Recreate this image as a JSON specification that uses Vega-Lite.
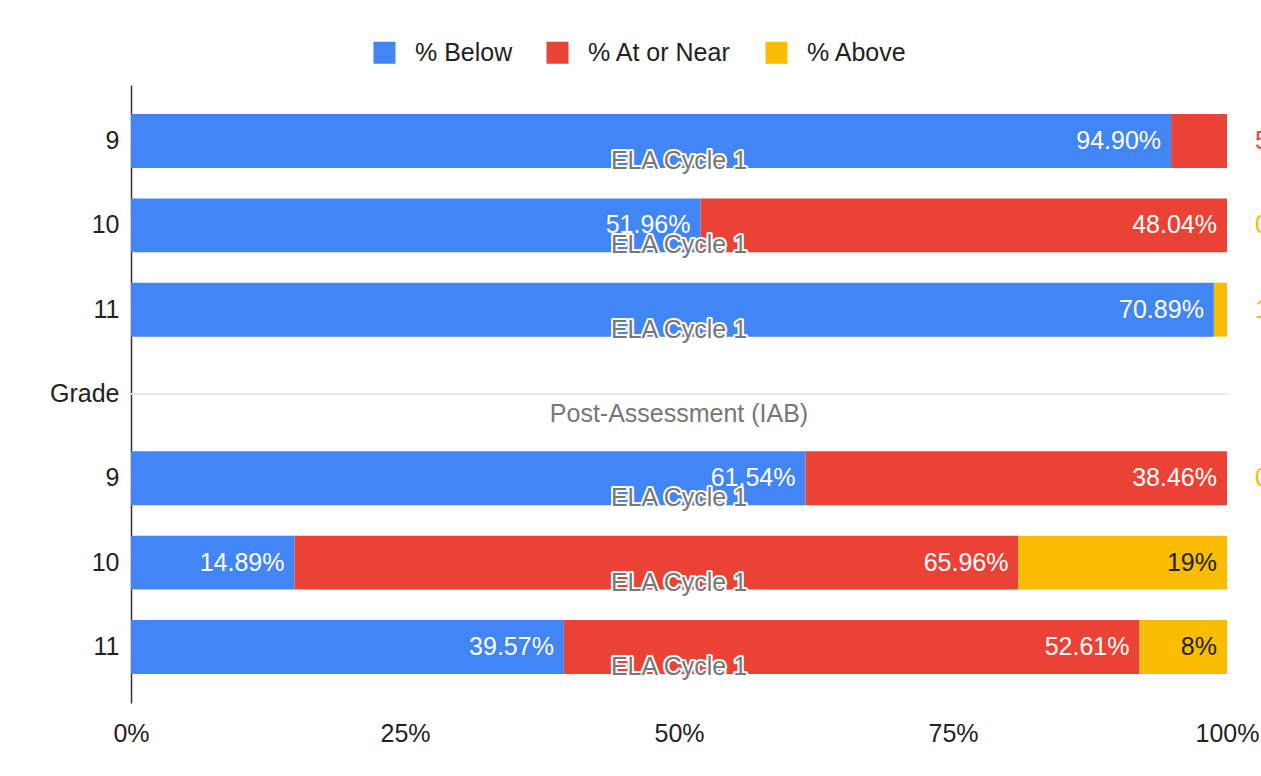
{
  "$schema": "https://vega.github.io/schema/vega-lite/v6.json",
  "autosize": {"type": "none"},
  "width": 1096,
  "height": 618,
  "padding": {"left": 131, "top": 85, "right": 34, "bottom": 73},
  "background": "white",
  "config": {
    "view": {"stroke": null},
    "font": "Liberation Sans",
    "text": {"font": "Liberation Sans"}
  },
  "datasets": {
    "bars": [
      {"row": "A 9", "series": "% Below", "value": 94.9, "label": "94.90%", "pos": "in"},
      {"row": "A 9", "series": "% At or Near", "value": 5.1, "label": "5.10%", "pos": "out"},
      {"row": "A 10", "series": "% Below", "value": 51.96, "label": "51.96%", "pos": "in"},
      {"row": "A 10", "series": "% At or Near", "value": 48.04, "label": "48.04%", "pos": "in"},
      {"row": "A 10", "series": "% Above", "value": 0, "label": "0%", "pos": "out"},
      {"row": "A 11", "series": "% Below", "value": 70.89, "label": "70.89%", "pos": "in"},
      {"row": "A 11", "series": "% Above", "value": 0.86, "label": "1%", "pos": "out"},
      {"row": "B 9", "series": "% Below", "value": 61.54, "label": "61.54%", "pos": "in"},
      {"row": "B 9", "series": "% At or Near", "value": 38.46, "label": "38.46%", "pos": "in"},
      {"row": "B 9", "series": "% Above", "value": 0, "label": "0%", "pos": "out"},
      {"row": "B 10", "series": "% Below", "value": 14.89, "label": "14.89%", "pos": "in"},
      {"row": "B 10", "series": "% At or Near", "value": 65.96, "label": "65.96%", "pos": "in"},
      {"row": "B 10", "series": "% Above", "value": 19, "label": "19%", "pos": "in"},
      {"row": "B 11", "series": "% Below", "value": 39.57, "label": "39.57%", "pos": "in"},
      {"row": "B 11", "series": "% At or Near", "value": 52.61, "label": "52.61%", "pos": "in"},
      {"row": "B 11", "series": "% Above", "value": 8, "label": "8%", "pos": "in"}
    ],
    "notes": [
      {"row": "A 9", "note": "ELA Cycle 1", "kind": "cycle"},
      {"row": "A 10", "note": "ELA Cycle 1", "kind": "cycle"},
      {"row": "A 11", "note": "ELA Cycle 1", "kind": "cycle"},
      {"row": "Grade", "note": "Post-Assessment (IAB)", "kind": "section"},
      {"row": "B 9", "note": "ELA Cycle 1", "kind": "cycle"},
      {"row": "B 10", "note": "ELA Cycle 1", "kind": "cycle"},
      {"row": "B 11", "note": "ELA Cycle 1", "kind": "cycle"}
    ]
  },
  "encoding": {
    "y": {
      "field": "row",
      "type": "nominal",
      "scale": {
        "domain": ["A 9", "A 10", "A 11", "Grade", "B 9", "B 10", "B 11"],
        "paddingInner": 0.36,
        "paddingOuter": 0.345
      },
      "axis": {
        "title": null,
        "ticks": false,
        "grid": false,
        "labelPadding": 12,
        "labelFontSize": 25,
        "labelColor": "#222222",
        "domainColor": "#333333",
        "domainWidth": 1.5,
        "labelExpr": "datum.value == 'Grade' ? 'Grade' : substring(datum.value, 2)"
      }
    }
  },
  "layer": [
    {
      "data": {"name": "notes"},
      "transform": [{"filter": "datum.kind == 'section'"}],
      "mark": {"type": "rule", "color": "#e8e8e8", "strokeWidth": 2},
      "encoding": {
        "x": {
          "datum": 0,
          "type": "quantitative",
          "scale": {"domain": [0, 1]},
          "axis": {
            "values": [0, 0.25, 0.5, 0.75, 1],
            "format": ".0%",
            "title": null,
            "domain": false,
            "ticks": false,
            "labelFontSize": 25,
            "labelColor": "#222222",
            "labelPadding": 18,
            "gridColor": "#cccccc",
            "gridWidth": 1,
            "labelFlush": false
          }
        },
        "x2": {"datum": 1}
      }
    },
    {
      "data": {"name": "bars"},
      "mark": {"type": "bar"},
      "encoding": {
        "x": {"field": "value", "type": "quantitative", "stack": "normalize"},
        "color": {
          "field": "series",
          "type": "nominal",
          "scale": {
            "domain": ["% Below", "% At or Near", "% Above"],
            "range": ["#4285f4", "#ea4335", "#fbbc04"]
          },
          "legend": {
            "title": null,
            "orient": "none",
            "direction": "horizontal",
            "legendX": 241,
            "legendY": -45,
            "symbolType": "square",
            "symbolSize": 484,
            "symbolStrokeWidth": 0,
            "symbolOpacity": 1,
            "labelFontSize": 25,
            "labelColor": "#222222",
            "labelOffset": 18,
            "columnPadding": 32
          }
        },
        "order": {"field": "series", "sort": "descending"}
      }
    },
    {
      "data": {"name": "bars"},
      "mark": {"type": "text", "align": "right", "baseline": "middle", "dx": -10, "fontSize": 25},
      "encoding": {
        "x": {"field": "value", "type": "quantitative", "stack": "normalize"},
        "detail": {"field": "series", "type": "nominal"},
        "order": {"field": "series", "sort": "descending"},
        "text": {"condition": {"test": "datum.pos == 'in'", "field": "label"}, "value": ""},
        "color": {"condition": {"test": "datum.series == '% Above'", "value": "#222222"}, "value": "#ffffff"}
      }
    },
    {
      "data": {"name": "bars"},
      "transform": [{"filter": "datum.pos == 'out'"}],
      "mark": {"type": "text", "align": "left", "baseline": "middle", "dx": 28, "fontSize": 25},
      "encoding": {
        "x": {"datum": 1, "type": "quantitative"},
        "text": {"field": "label"},
        "color": {"condition": {"test": "datum.series == '% At or Near'", "value": "#ea4335"}, "value": "#fbbc04"}
      }
    },
    {
      "data": {"name": "notes"},
      "transform": [{"filter": "datum.kind == 'cycle'"}],
      "mark": {"type": "text", "align": "center", "baseline": "middle", "dy": 20, "fontSize": 25, "fill": "#ffffff", "stroke": "#ffffff", "strokeWidth": 4, "strokeJoin": "round"},
      "encoding": {
        "x": {"datum": 0.5, "type": "quantitative"},
        "text": {"field": "note"}
      }
    },
    {
      "data": {"name": "notes"},
      "mark": {"type": "text", "align": "center", "baseline": "middle", "dy": 20, "fontSize": 25, "fill": "#777777"},
      "encoding": {
        "x": {"datum": 0.5, "type": "quantitative"},
        "text": {"field": "note"}
      }
    }
  ]
}
